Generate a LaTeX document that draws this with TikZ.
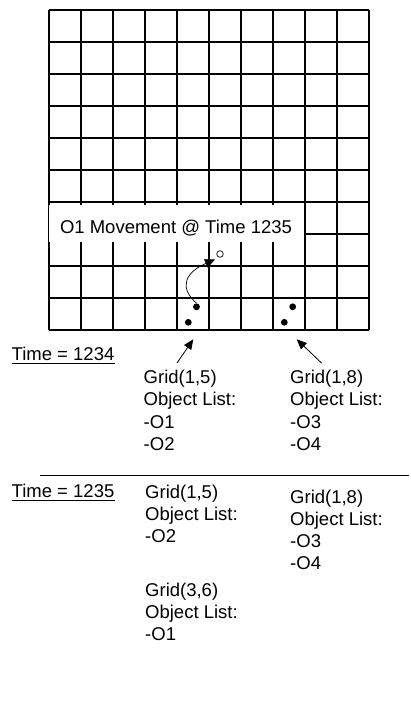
\documentclass[tikz,border=0pt]{standalone}
\usepackage{fontspec}
\setmainfont{Liberation Sans}
\usetikzlibrary{arrows.meta}
\begin{document}
\begin{tikzpicture}[x=1pt,y=-1pt,
  gridline/.style={line width=1.2pt},
  txt/.style={font=\fontsize{18.5}{22.3}\selectfont, inner sep=0pt, anchor=base west, align=left},
  dot/.style={circle, fill=black, inner sep=0pt, minimum size=6.8pt},
  opendot/.style={circle, draw=black, fill=white, line width=0.7pt, inner sep=0pt, minimum size=6.6pt},
  ptr/.style={line width=0.8pt, -{Triangle[length=10pt,width=8.5pt]}},
  uline/.style={line width=1.2pt}
]
\useasboundingbox (0,0) rectangle (411,706);
% grid
\foreach \i in {0,...,10} {
  \draw[gridline] ({49+32*\i},10) -- ({49+32*\i},330);
  \draw[gridline] (49,{10+32*\i}) -- (369,{10+32*\i});
}
% caption box on the grid
\node[fill=white, inner sep=0pt, minimum width=255pt, text height=28.3pt, text depth=8.7pt,
      font=\fontsize{18.5}{22}\selectfont, anchor=base] (cap) at (176,233.3) {O1 Movement @ Time 1235};
% objects
\node[dot] (o1) at (196.5,306.8) {};
\node[dot] (o2) at (188.3,322.3) {};
\node[dot] (o3) at (292.7,306.8) {};
\node[dot] (o4) at (284.3,322.3) {};
\node[opendot] (o1new) at (220,254) {};
\coordinate (mvend) at (215,259.5);
\draw[line width=0.7pt, -{Triangle[length=10pt,width=9pt]}]
  (o1.north) .. controls (178,287) and (186,272) .. (mvend);
% time 1234
\node[txt] (t1) at (11.5,360) {Time = 1234};
\draw[uline] ([yshift=-3.5pt]t1.base west) -- ([yshift=-3.5pt]t1.base east);
% (base of a multi-line node = baseline of its last line)
\node[txt] (g15a) at (143.5,450.4) {Grid(1,5)\\Object List:\\-O1\\-O2};
\node[txt] (g18a) at (290,450.4) {Grid(1,8)\\Object List:\\-O3\\-O4};
\coordinate (a1tail) at (177,363);
\coordinate (a1tip) at (193.3,339.3);
\coordinate (a2tail) at (321.5,363);
\coordinate (a2tip) at (296.7,339.3);
\draw[ptr] (a1tail) -- (a1tip);
\draw[ptr] (a2tail) -- (a2tip);
% separator
\coordinate (sepl) at (40,475);
\coordinate (sepr) at (409,475);
\draw[line width=1pt] (sepl) -- (sepr);
% time 1235
\node[txt] (t2) at (11.5,497) {Time = 1235};
\draw[uline] ([yshift=-3.8pt]t2.base west) -- ([yshift=-3.8pt]t2.base east);
\node[txt] (g15b) at (145,542.6) {Grid(1,5)\\Object List:\\-O2};
\node[txt] (g18b) at (290,569.9) {Grid(1,8)\\Object List:\\-O3\\-O4};
\node[txt] (g36b) at (145,640.9) {Grid(3,6)\\Object List:\\-O1};
\end{tikzpicture}
\end{document}
